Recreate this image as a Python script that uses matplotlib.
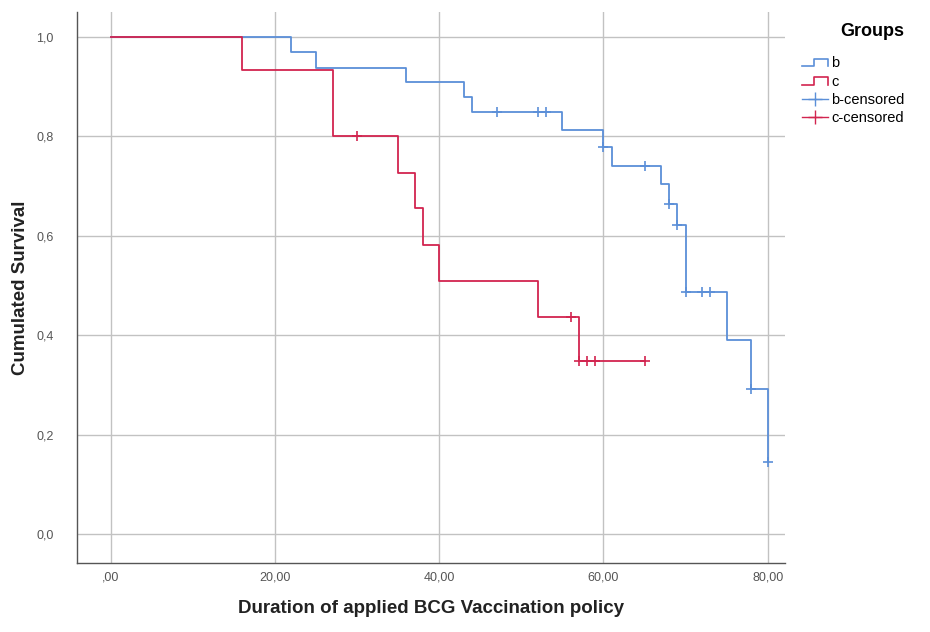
import matplotlib
matplotlib.use("Agg")
import matplotlib.pyplot as plt
from matplotlib.lines import Line2D
from matplotlib.legend_handler import HandlerBase
from matplotlib.ticker import FuncFormatter

plt.rcParams["font.family"] = ["Liberation Sans", "DejaVu Sans"]

# group b: Kaplan-Meier steps
b_time = [0, 22, 25, 36, 43, 44, 55, 60, 61, 67, 68, 69, 70, 75, 78, 80]
b_surv = [1.0, 0.969, 0.938, 0.909, 0.879, 0.848, 0.813, 0.778, 0.741,
          0.704, 0.663, 0.622, 0.488, 0.390, 0.293, 0.146]
b_cens_time = [47, 52, 53, 60, 65, 68, 69, 70, 72, 73, 78, 80]
b_cens_surv = [0.848, 0.848, 0.848, 0.778, 0.741, 0.663, 0.622, 0.488,
               0.488, 0.488, 0.293, 0.146]

# group c
c_time = [0, 16, 27, 35, 37, 38, 40, 52, 57, 65]
c_surv = [1.0, 0.933, 0.800, 0.727, 0.655, 0.582, 0.509, 0.436, 0.349, 0.349]
c_cens_time = [30, 56, 57, 58, 59, 65]
c_cens_surv = [0.800, 0.436, 0.349, 0.349, 0.349, 0.349]

x_ticks = [0, 20, 40, 60, 80]
y_ticks = [0.0, 0.2, 0.4, 0.6, 0.8, 1.0]

BLUE = "#5b8fd8"
RED = "#d2244f"


class StepHandler(HandlerBase):
    def create_artists(self, legend, orig, xd, yd, w, h, fontsize, trans):
        xs = [xd, xd + 0.45 * w, xd + 0.45 * w, xd + w, xd + w]
        ys = [yd + 0.1 * h, yd + 0.1 * h, yd + 0.8 * h, yd + 0.8 * h, yd + 0.1 * h]
        ln = Line2D(xs, ys, color=orig.get_color(), lw=1.2, transform=trans)
        return [ln]


fig = plt.figure(figsize=(9.3, 6.32), dpi=100)
ax = fig.add_axes([0.083, 0.109, 0.761, 0.872])

lb, = ax.step(b_time, b_surv, where="post", color=BLUE, lw=1.3)
lc, = ax.step(c_time, c_surv, where="post", color=RED, lw=1.3)
mb, = ax.plot(b_cens_time, b_cens_surv, ls="none", marker="+", ms=6.5, mew=1.2, color=BLUE)
mc, = ax.plot(c_cens_time, c_cens_surv, ls="none", marker="+", ms=6.5, mew=1.2, color=RED)

ax.set_xlim(-4.1, 82.1)
ax.set_ylim(-0.058, 1.05)
ax.set_xticks(x_ticks)
ax.set_yticks(y_ticks)
ax.xaxis.set_major_formatter(FuncFormatter(
    lambda v, p: ",00" if v == 0 else f"{v:.2f}".replace(".", ",")))
ax.yaxis.set_major_formatter(FuncFormatter(lambda v, p: f"{v:.1f}".replace(".", ",")))
ax.tick_params(length=0, labelsize=9, colors="#555555")
ax.tick_params(axis="x", pad=6)
ax.tick_params(axis="y", pad=17)
ax.grid(True, color="#c2c2c2", lw=1.0)
ax.set_axisbelow(True)
for s in ("top", "right"):
    ax.spines[s].set_visible(False)
for s in ("left", "bottom"):
    ax.spines[s].set_color("#555555")
    ax.spines[s].set_linewidth(1.0)

ax.set_xlabel("Duration of applied BCG Vaccination policy", fontsize=13.5,
              fontweight="bold", color="#222222", labelpad=12)
ax.set_ylabel("Cumulated Survival", fontsize=13.5, fontweight="bold",
              color="#222222", labelpad=5)

blh = Line2D([], [], color=BLUE, marker="+", ms=10, mew=1.0, lw=1.0)
clh = Line2D([], [], color=RED, marker="+", ms=10, mew=1.0, lw=1.0)
leg = fig.legend([lb, lc, blh, clh], ["b", "c", "b-censored", "c-censored"],
                 title="Groups", loc="upper left", bbox_to_anchor=(0.848, 0.985),
                 frameon=False, fontsize=10.5, handlelength=1.8, handletextpad=0.2,
                 labelspacing=0.3,
                 handler_map={lb: StepHandler(), lc: StepHandler()})
leg.get_title().set_fontweight("bold")
leg.get_title().set_fontsize(13)
leg._legend_box.align = "right"
leg._legend_box.sep = 12

fig.savefig("out.png", dpi=100)
